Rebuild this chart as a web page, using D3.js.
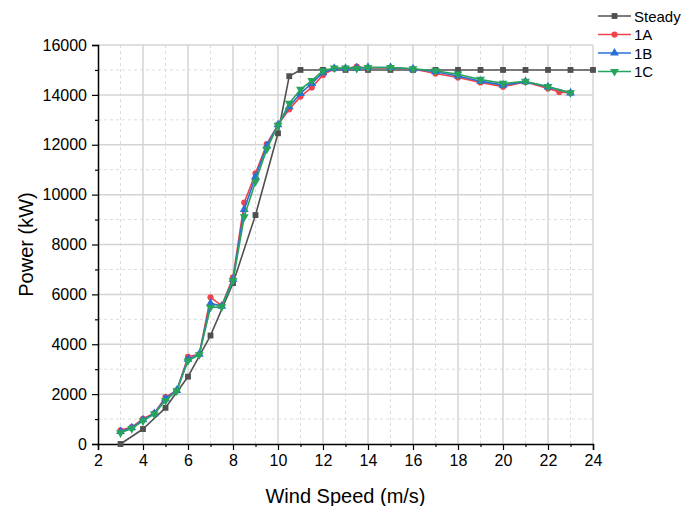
<!DOCTYPE html>
<html>
<head>
<meta charset="utf-8">
<script src="https://cdn.jsdelivr.net/npm/d3@7"></script>
<style>
  html, body { margin: 0; padding: 0; background: #fff; }
  svg { display: block; font-family: "Liberation Sans", Arial, sans-serif; }
</style>
</head>
<body>
<svg id="chart" width="681" height="506"></svg>
<script>
// Wind speed samples (m/s)
const steadyWind = [3, 4, 5, 6, 7, 8, 9, 10, 10.5, 11, 12, 13, 14, 15, 16, 17, 18, 19, 20, 21, 22, 23, 24];
const caseWind = [3, 3.5, 4, 4.5, 5, 5.5, 6, 6.5, 7, 7.5, 8, 8.5, 9, 9.5, 10, 10.5, 11, 11.5, 12, 12.5, 13, 13.5, 14, 15, 16, 17, 18, 19, 20, 21, 22, 23];
const caseWindA = [3, 3.5, 4, 4.5, 5, 5.5, 6, 6.5, 7, 7.5, 8, 8.5, 9, 9.5, 10, 10.5, 11, 11.5, 12, 12.5, 13, 13.5, 14, 15, 16, 17, 18, 19, 20, 21, 22, 22.5, 23];

// Power output (kW)
const steadyPower = [0, 600, 1450, 2700, 4350, 6450, 9180, 12460, 14750, 15000, 15000, 15000, 15000, 15000, 15000, 15000, 15000, 15000, 15000, 15000, 15000, 15000, 15000];
const power1A = [550, 680, 1010, 1230, 1880, 2150, 3500, 3600, 5880, 5550, 6680, 9680, 10850, 12030, 12800, 13420, 13930, 14300, 14800, 15050, 15060, 15130, 15080, 15080, 15040, 14860, 14700, 14500, 14330, 14520, 14260, 14120, 14080];
const power1B = [500, 650, 970, 1220, 1820, 2150, 3400, 3600, 5640, 5530, 6600, 9410, 10720, 11950, 12800, 13530, 14060, 14460, 14890, 15060, 15060, 15080, 15100, 15100, 15040, 14930, 14760, 14550, 14390, 14530, 14320, 14080];
const power1C = [450, 620, 930, 1200, 1740, 2130, 3340, 3580, 5480, 5500, 6550, 9110, 10520, 11820, 12780, 13660, 14220, 14570, 14970, 15080, 15080, 15060, 15100, 15100, 15050, 14970, 14830, 14620, 14460, 14540, 14330, 14080];

// Axis ticks
const xMajorTicks = [2, 4, 6, 8, 10, 12, 14, 16, 18, 20, 22, 24];
const xMinorTicks = [3, 5, 7, 9, 11, 13, 15, 17, 19, 21, 23];
const yMajorTicks = [0, 2000, 4000, 6000, 8000, 10000, 12000, 14000, 16000];
const yMinorTicks = [1000, 3000, 5000, 7000, 9000, 11000, 13000, 15000];

const seriesNames = ["Steady", "1A", "1B", "1C"];
const seriesColors = ["#505050", "#ef434b", "#2b6fd4", "#27a45c"];
const seriesShapes = [d3.symbolSquare, d3.symbolCircle, d3.symbolTriangle, "down"];

const series = [
  { x: steadyWind, y: steadyPower },
  { x: caseWindA, y: power1A },
  { x: caseWind, y: power1B },
  { x: caseWind, y: power1C }
];

const svg = d3.select("#chart");
const m = { left: 98, right: 593, top: 45, bottom: 444 };

const x = d3.scaleLinear().domain([2, 24]).range([m.left, m.right]);
const y = d3.scaleLinear().domain([0, 16000]).range([m.bottom, m.top]);

// Grid: dashed minor lines, solid major lines
const grid = svg.append("g");
grid.selectAll(".xmin").data(xMinorTicks).join("line")
  .attr("x1", d => x(d)).attr("x2", d => x(d))
  .attr("y1", m.top).attr("y2", m.bottom)
  .attr("stroke", "#dcdcdc").attr("stroke-width", 1).attr("stroke-dasharray", "3,3");
grid.selectAll(".ymin").data(yMinorTicks).join("line")
  .attr("y1", d => y(d)).attr("y2", d => y(d))
  .attr("x1", m.left).attr("x2", m.right)
  .attr("stroke", "#dcdcdc").attr("stroke-width", 1).attr("stroke-dasharray", "3,3");
grid.selectAll(".xmaj").data(xMajorTicks.slice(1)).join("line")
  .attr("x1", d => x(d)).attr("x2", d => x(d))
  .attr("y1", m.top).attr("y2", m.bottom)
  .attr("stroke", "#d4d4d4").attr("stroke-width", 1.5);
grid.selectAll(".ymaj").data(yMajorTicks.slice(1)).join("line")
  .attr("y1", d => y(d)).attr("y2", d => y(d))
  .attr("x1", m.left).attr("x2", m.right)
  .attr("stroke", "#d4d4d4").attr("stroke-width", 1.5);

// Axes
svg.append("g").attr("transform", `translate(0,${m.bottom})`)
  .call(d3.axisBottom(x).tickValues(xMajorTicks).tickSize(6).tickPadding(5).tickFormat(d3.format("d")));
svg.append("g").attr("transform", `translate(0,${m.bottom})`)
  .call(d3.axisBottom(x).tickValues(xMinorTicks).tickSize(3).tickFormat(""))
  .call(g => g.select(".domain").remove());
svg.append("g").attr("transform", `translate(${m.left},0)`)
  .call(d3.axisLeft(y).tickValues(yMajorTicks).tickSize(6).tickPadding(5).tickFormat(d3.format("d")));
svg.append("g").attr("transform", `translate(${m.left},0)`)
  .call(d3.axisLeft(y).tickValues(yMinorTicks).tickSize(3).tickFormat(""))
  .call(g => g.select(".domain").remove());

svg.selectAll(".domain").attr("stroke", "#000").attr("stroke-width", 1.5);
svg.selectAll(".tick line").attr("stroke", "#000").attr("stroke-width", 1.2);
svg.selectAll(".tick text").attr("font-size", 16).attr("fill", "#000")
  .attr("font-family", "'Liberation Sans', Arial, sans-serif");

// Axis titles
svg.append("text").attr("x", (m.left + m.right) / 2).attr("y", 503)
  .attr("text-anchor", "middle").attr("font-size", 20).attr("fill", "#000")
  .text("Wind Speed (m/s)");
svg.append("text").attr("transform", `translate(33,${(m.top + m.bottom) / 2}) rotate(-90)`)
  .attr("text-anchor", "middle").attr("font-size", 20).attr("fill", "#000")
  .text("Power (kW)");

// Marker generator
function markerPath(shape, size) {
  const type = shape === "down" ? d3.symbolTriangle : shape;
  return d3.symbol().type(type).size(size)();
}
const markerSizes = [34, 30, 34, 34];

// Series lines and markers
const line = d3.line().x(d => x(d[0])).y(d => y(d[1]));
series.forEach((s, i) => {
  const pts = s.x.map((v, k) => [v, s.y[k]]);
  const g = svg.append("g");
  g.append("path").datum(pts).attr("d", line)
    .attr("fill", "none").attr("stroke", seriesColors[i]).attr("stroke-width", 1.6)
    .attr("stroke-linejoin", "round");
  g.selectAll("path.mk").data(pts).join("path").attr("class", "mk")
    .attr("d", markerPath(seriesShapes[i], markerSizes[i]))
    .attr("transform", d => `translate(${x(d[0])},${y(d[1])})` + (seriesShapes[i] === "down" ? " rotate(180)" : ""))
    .attr("fill", seriesColors[i]);
});

// Legend
const legend = svg.append("g");
seriesNames.forEach((name, i) => {
  const ly = 16 + i * 18.5;
  legend.append("line").attr("x1", 598).attr("x2", 631).attr("y1", ly).attr("y2", ly)
    .attr("stroke", seriesColors[i]).attr("stroke-width", 1.6);
  legend.append("path").attr("d", markerPath(seriesShapes[i], markerSizes[i]))
    .attr("transform", `translate(614.5,${ly})` + (seriesShapes[i] === "down" ? " rotate(180)" : ""))
    .attr("fill", seriesColors[i]);
  legend.append("text").attr("x", 634).attr("y", ly + 5.5)
    .attr("font-size", 15).attr("fill", "#000").text(name);
});
</script>
</body>
</html>
